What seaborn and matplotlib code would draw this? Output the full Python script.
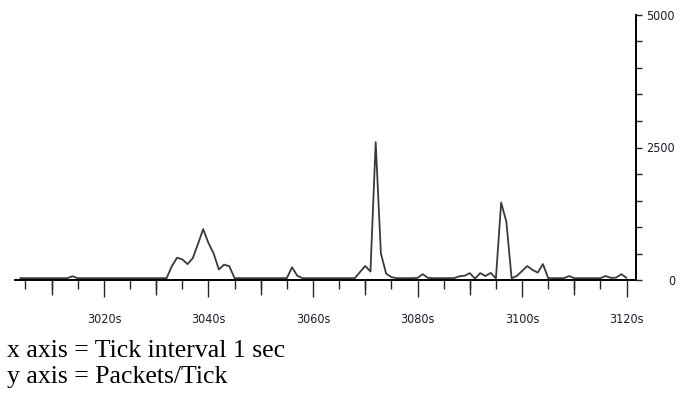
import matplotlib
matplotlib.use('Agg')
import matplotlib.pyplot as plt
from matplotlib import font_manager
from matplotlib.ticker import MultipleLocator
import pandas as pd
import seaborn as sns

# packets per 1 s tick (3004s .. 3120s)
seconds = list(range(3004, 3121))
packets = [35, 35, 35, 35, 35, 35, 35, 35, 35, 35,
           70, 35, 35, 35, 35, 35, 35, 35, 35, 35,
           35, 35, 35, 35, 35, 35, 35, 35, 35, 260,
           420, 390, 300, 410, 680, 960, 700, 500, 200, 290,
           260, 35, 35, 35, 35, 35, 35, 35, 35, 35,
           35, 35, 240, 80, 35, 35, 35, 35, 35, 35,
           35, 35, 35, 35, 35, 150, 265, 160, 2600, 500,
           120, 55, 35, 35, 35, 35, 40, 110, 40, 35,
           35, 35, 35, 35, 70, 80, 130, 25, 130, 75,
           135, 30, 1460, 1100, 35, 75, 170, 264, 190, 140,
           300, 35, 35, 35, 35, 75, 35, 35, 35, 35,
           35, 35, 75, 40, 45, 110, 40]

xticks = [3020, 3040, 3060, 3080, 3100, 3120]
xtick_labels = ['3020s', '3040s', '3060s', '3080s', '3100s', '3120s']
xticks_mid = [3010, 3030, 3050, 3070, 3090, 3110]
yticks = [0, 2500, 5000]
ytick_labels = ['0', '2500', '5000']
notes = ['x axis = Tick interval 1 sec', 'y axis = Packets/Tick']

sns.set_style('white')

# look for a narrow sans for the tick labels, else plain Liberation Sans
tick_family, tick_stretch, tick_size = 'Liberation Sans', 'normal', 8.5
for f in font_manager.fontManager.ttflist:
    st = f.stretch
    narrow_name = 'Narrow' in f.name or 'Condensed' in f.name
    narrow_st = st in ('condensed', 'semi-condensed', 'extra-condensed') or (isinstance(st, int) and st < 500)
    if narrow_name or narrow_st:
        tick_family, tick_stretch, tick_size = f.name, st, 9
        break
plt.rcParams['font.family'] = [tick_family, 'DejaVu Sans']
plt.rcParams['font.stretch'] = tick_stretch

fig = plt.figure(figsize=(6.91, 3.93), dpi=100)
ax = fig.add_axes([15/691, 113/393, 621/691, 265/393])

df = pd.DataFrame({'t': seconds, 'pkts': packets})
sns.lineplot(data=df, x='t', y='pkts', ax=ax, color='#3a3a3a', linewidth=1.3)

ax.set_xlim(3003, 3121.8)
ax.set_ylim(0, 5000)
ax.set_xlabel('')
ax.set_ylabel('')
sns.despine(ax=ax, left=True, top=True, right=False, bottom=False)
for s in ['bottom', 'right']:
    ax.spines[s].set_color('black')
    ax.spines[s].set_linewidth(1.4)

ax.set_xticks(xticks, labels=xtick_labels)
ax.xaxis.set_minor_locator(MultipleLocator(5))
ax.tick_params(axis='x', which='major', bottom=True, direction='out', length=12.2,
               width=1, pad=11.5, labelsize=tick_size, labelcolor='#1c1c2c')
ax.tick_params(axis='x', which='minor', bottom=True, direction='out', length=6.5, width=1)

# medium ticks every 10 s
sec = ax.secondary_xaxis('bottom')
sec.set_xticks(xticks_mid)
sec.tick_params(axis='x', bottom=True, direction='out', length=10.8, width=1, labelbottom=False)
sec.spines['bottom'].set_visible(False)

ax.yaxis.tick_right()
ax.set_yticks(yticks, labels=ytick_labels)
ax.yaxis.set_minor_locator(MultipleLocator(500))
ax.tick_params(axis='y', which='major', right=True, left=False, direction='out', length=4.5,
               width=1, pad=23.5, labelsize=tick_size, labelcolor='#1c1c2c')
ax.tick_params(axis='y', which='minor', right=True, left=False, direction='out', length=4, width=1)
for tk in ax.yaxis.get_major_ticks():
    tk.label2.set_horizontalalignment('right')

fig.text(7/691, 36/393, notes[0], family=['Liberation Serif', 'DejaVu Serif'],
         fontstretch='normal', fontsize=18.5, va='baseline', color='black')
fig.text(7/691, 10/393, notes[1], family=['Liberation Serif', 'DejaVu Serif'],
         fontstretch='normal', fontsize=18.5, va='baseline', color='black')

fig.savefig('out.png', dpi=100)
